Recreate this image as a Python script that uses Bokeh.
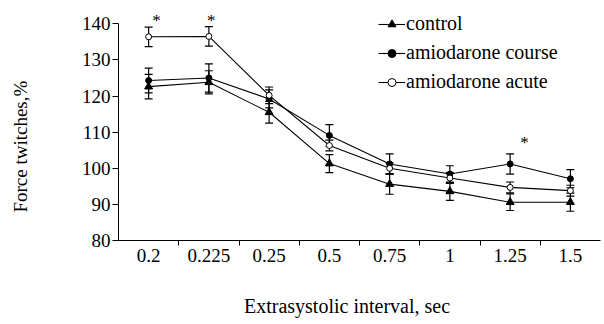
from bokeh.plotting import figure
from bokeh.models import (ColumnDataSource, Whisker, TeeHead, FixedTicker, Legend,
                          LegendItem, Range1d)
from bokeh.core.properties import value
from bokeh.embed import file_html
from bokeh.resources import INLINE

categories = ["0.2", "0.225", "0.25", "0.5", "0.75", "1", "1.25", "1.5"]
control = [122.6, 123.8, 115.5, 101.3, 95.6, 93.6, 90.6, 90.6]
control_err = [3.4, 3.2, 3.0, 2.5, 2.8, 2.5, 2.3, 2.5]
course = [124.3, 125.0, 119.2, 109.1, 101.2, 98.4, 101.2, 97.1]
course_err = [3.4, 3.9, 2.5, 3.0, 2.8, 2.3, 2.8, 2.5]
acute = [136.4, 136.5, 120.2, 106.3, 100.0, 97.3, 94.7, 93.8]
acute_err = [2.7, 2.7, 2.3, 1.5, 1.5, 1.5, 1.5, 1.5]
y_ticks = [80, 90, 100, 110, 120, 130, 140]
star_cats = ["0.2", "0.225", "1.25"]
star_y = [140.9, 140.9, 107.2]
star_shift = [0.13, 0.04, 0.24]

FONT = "Liberation Serif"
NB = "\u00a0"
xpos = [i + 0.5 for i in range(len(categories))]

p = figure(width=604, height=324, output_backend="svg", toolbar_location=None,
           x_range=Range1d(0, 8), y_range=Range1d(80, 146.45),
           min_border_left=118, min_border_right=4, min_border_top=0,
           min_border_bottom=84)
p.outline_line_color = None
p.grid.grid_line_color = None
p.background_fill_color = "white"

series = [
    ("control", control, control_err, "triangle", "black", 8),
    ("amiodarone course", course, course_err, "circle", "black", 6),
    ("amiodarone acute", acute, acute_err, "circle", "white", 6),
]
items = []
for name, vals, errs, marker, fill, size in series:
    src = ColumnDataSource(dict(x=xpos, y=vals,
                                lo=[v - e for v, e in zip(vals, errs)],
                                hi=[v + e for v, e in zip(vals, errs)]))
    w = Whisker(source=src, base="x", upper="hi", lower="lo",
                line_color="black", line_width=1.2,
                upper_head=TeeHead(size=8, line_color="black", line_width=1.2),
                lower_head=TeeHead(size=8, line_color="black", line_width=1.2))
    p.add_layout(w)
    ln = p.line("x", "y", source=src, line_color="black", line_width=1.1)
    sc = p.scatter("x", "y", source=src, marker=marker, size=size,
                   fill_color=fill, line_color="black", line_width=1)
    items.append(LegendItem(label=name, renderers=[ln, sc]))

legend = Legend(items=items, location=(260, 147), orientation="vertical",
                glyph_width=27, glyph_height=20, label_height=20,
                label_standoff=1, spacing=6, padding=0, margin=0,
                background_fill_alpha=0, border_line_color=None)
legend.label_text_font = FONT
legend.label_text_font_size = "20px"
legend.label_text_font_style = "normal"
legend.label_text_color = "black"
p.add_layout(legend)

star_x = [xpos[categories.index(c)] + s for c, s in zip(star_cats, star_shift)]
p.text(x=star_x, y=star_y, text=["*"] * len(star_x), text_font=value(FONT),
       text_font_size="17px", text_align="center", text_baseline="middle",
       text_color="black")

xa = p.xaxis[0]
xa.ticker = FixedTicker(ticks=xpos, minor_ticks=[1, 2, 3, 4, 5, 6, 7])
xa.major_label_overrides = {x: c for x, c in zip(xpos, categories)}
xa.major_tick_line_color = None
xa.major_tick_in = 0
xa.major_tick_out = 0
xa.minor_tick_in = 0
xa.minor_tick_out = 5
xa.minor_tick_line_color = "black"
xa.major_label_standoff = 3
xa.axis_line_color = "black"
xa.major_label_text_font = FONT
xa.major_label_text_font_size = "19px"
xa.major_label_text_color = "black"
xa.axis_label = "Extrasystolic interval, sec" + NB * 5
xa.axis_label_standoff = 30
xa.axis_label_text_font = FONT
xa.axis_label_text_font_size = "20px"
xa.axis_label_text_font_style = "normal"
xa.axis_label_text_color = "black"

ya = p.yaxis[0]
ya.ticker = FixedTicker(ticks=y_ticks)
ya.bounds = (80, 140)
ya.major_tick_in = 0
ya.major_tick_out = 6
ya.minor_tick_line_color = None
ya.major_label_standoff = 2
ya.axis_line_color = "black"
ya.major_label_text_font = FONT
ya.major_label_text_font_size = "19px"
ya.major_label_text_color = "black"
ya.axis_label = "Force twitches,%" + NB * 11
ya.axis_label_standoff = 48
ya.axis_label_text_font = FONT
ya.axis_label_text_font_size = "19px"
ya.axis_label_text_font_style = "normal"
ya.axis_label_text_color = "black"

open("out.html", "w").write(file_html(p, INLINE))
